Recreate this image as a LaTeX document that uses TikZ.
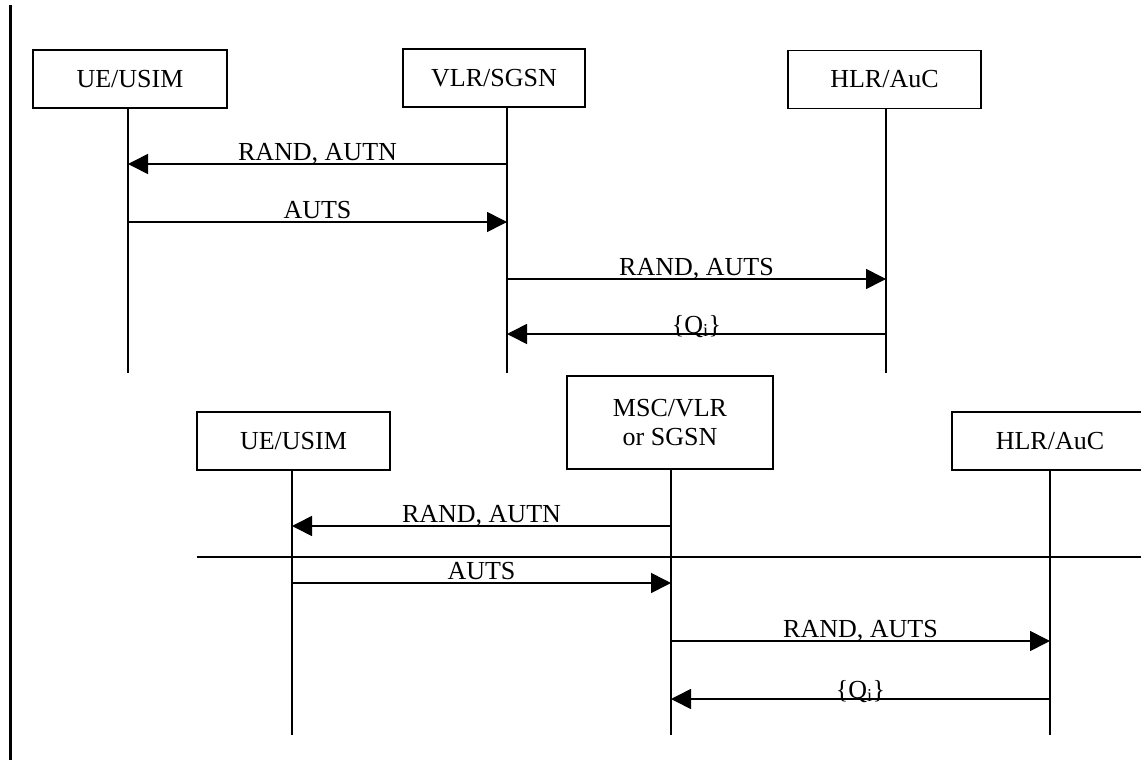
\documentclass[tikz,border=0pt]{standalone}
\usepackage{fontspec}
\setmainfont{Liberation Serif}
\usepackage{tikz}
\usetikzlibrary{arrows.meta, positioning}

\tikzset{
  entity/.style={draw, line width=1.6pt, minimum height=58pt, inner sep=0pt, align=center, font=\fontsize{26}{31}\selectfont},
  life/.style={line width=1.6pt},
  msg/.style={line width=1.6pt, -{Triangle[length=20pt, width=20pt]}},
  lbl/.style={anchor=base, inner sep=0pt, yshift=4pt, font=\fontsize{26}{31}\selectfont},
}

\begin{document}
\begin{tikzpicture}[
  x=1pt, y=-1pt,
]
  \useasboundingbox (0,0) rectangle (1141,760);
  \clip (0,0) rectangle (1141,760);

  % ── Left margin rule ──
  \draw[line width=3pt] (10,5) -- (10,760);

  % ── Upper chart: entities ──
  \node[entity, minimum width=194pt] (ueA)  at (130,79)   {UE/USIM};
  \node[entity, minimum width=182pt] (vlrA) at (494,78)   {VLR/SGSN};
  \node[entity, minimum width=193pt] (hlrA) at (884.5,79.5) {HLR/AuC};

  % ── Upper chart: lifelines ──
  \coordinate (ueAend)  at (128,373);
  \coordinate (vlrAend) at (507,373);
  \coordinate (hlrAend) at (886,373);
  \draw[life] (ueAend |- ueA.south) -- (ueAend);
  \draw[life] (vlrAend |- vlrA.south) -- (vlrAend);
  \draw[life] (hlrAend |- hlrA.south) -- (hlrAend);

  % ── Upper chart: messages ──
  \coordinate (mA1) at (0,164);
  \coordinate (mA2) at (0,222);
  \coordinate (mA3) at (0,279);
  \coordinate (mA4) at (0,334);
  \draw[msg] (vlrAend |- mA1) -- node[lbl] {RAND, AUTN} (ueAend |- mA1);
  \draw[msg] (ueAend |- mA2) -- node[lbl] {AUTS} (vlrAend |- mA2);
  \draw[msg] (vlrAend |- mA3) -- node[lbl] {RAND, AUTS} (hlrAend |- mA3);
  \draw[msg] (hlrAend |- mA4) -- node[lbl, yshift=-3pt] {\{Q\textsubscript{i}\}} (vlrAend |- mA4);

  % ── Lower chart: entities ──
  \node[entity, minimum width=193pt] (ueB)  at (293.5,441) {UE/USIM};
  \node[entity, minimum width=206pt, minimum height=93pt] (mscB) at (670,422.5) {MSC/VLR\\[-2pt]or SGSN};
  \node[entity, minimum width=196pt] (hlrB) at (1050,441) {HLR/AuC};

  % ── Lower chart: lifelines ──
  \coordinate (ueBend)  at (292,735);
  \coordinate (mscBend) at (671,735);
  \coordinate (hlrBend) at (1050,735);
  \draw[life] (ueBend |- ueB.south) -- (ueBend);
  \draw[life] (mscBend |- mscB.south) -- (mscBend);
  \draw[life] (hlrBend |- hlrB.south) -- (hlrBend);

  % ── Lower chart: separator ──
  \coordinate (sepL) at (197,557);
  \coordinate (sepR) at (1141,557);
  \draw[line width=1.6pt] (sepL) -- (sepR);

  % ── Lower chart: messages ──
  \coordinate (mB1) at (0,526);
  \coordinate (mB2) at (0,583);
  \coordinate (mB3) at (0,641);
  \coordinate (mB4) at (0,699);
  \draw[msg] (mscBend |- mB1) -- node[lbl] {RAND, AUTN} (ueBend |- mB1);
  \draw[msg] (ueBend |- mB2) -- node[lbl] {AUTS} (mscBend |- mB2);
  \draw[msg] (mscBend |- mB3) -- node[lbl] {RAND, AUTS} (hlrBend |- mB3);
  \draw[msg] (hlrBend |- mB4) -- node[lbl, yshift=-3pt] {\{Q\textsubscript{i}\}} (mscBend |- mB4);

\end{tikzpicture}
\end{document}
